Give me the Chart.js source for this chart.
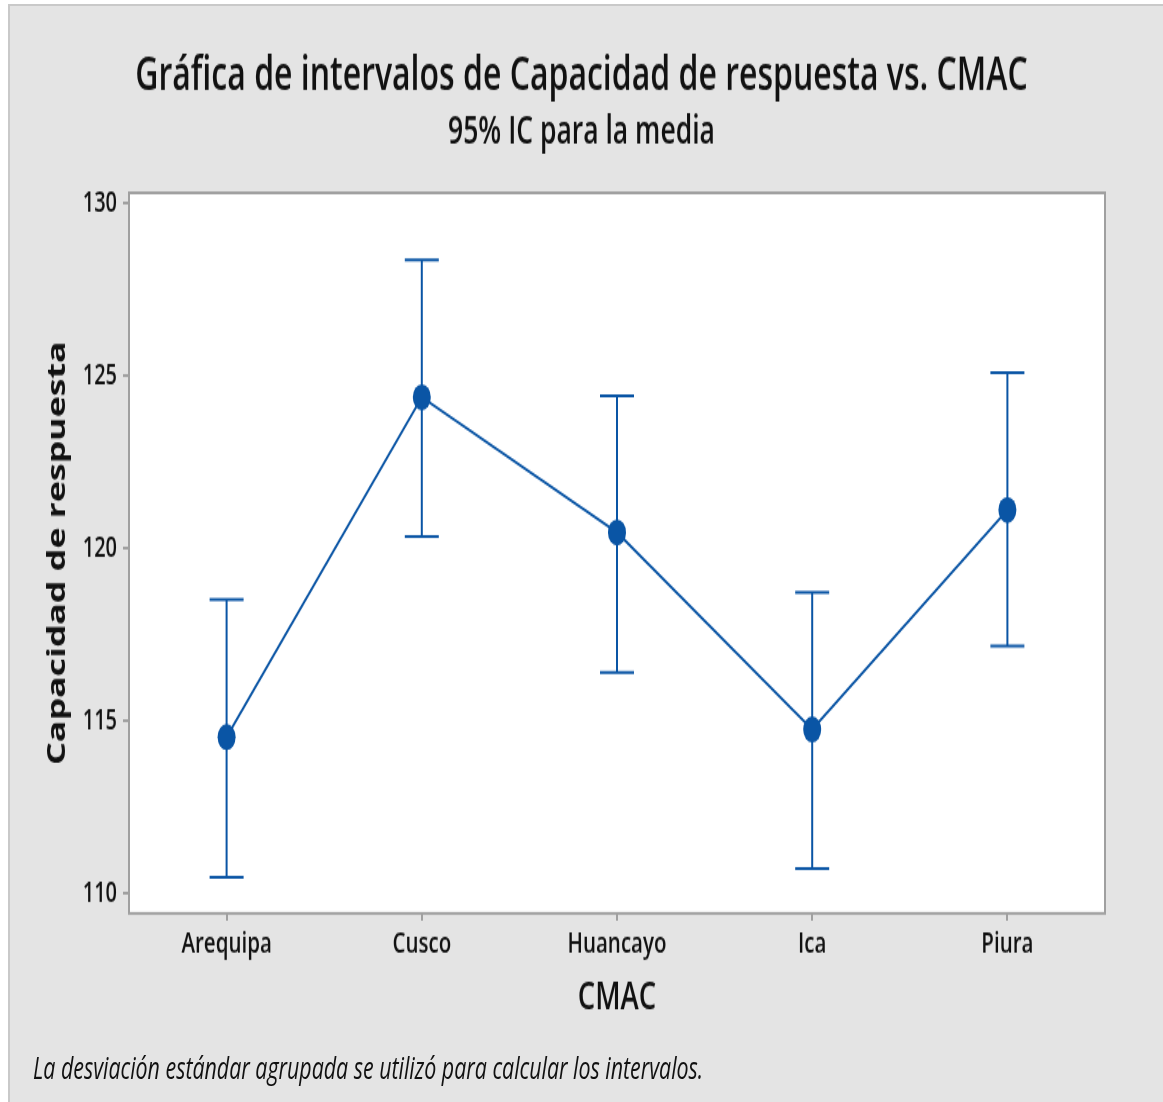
<!DOCTYPE html>
<html>
<head>
<meta charset="utf-8">
<script src="https://cdn.jsdelivr.net/npm/chart.js@4.4.1/dist/chart.umd.min.js"></script>
<style>
  html, body { margin: 0; padding: 0; background: #ffffff; width: 1163px; height: 1102px; overflow: hidden; }
  #bg { position: absolute; left: 8px; top: 4px; right: 0; bottom: 0; background: #e4e4e4; border-top: 2px solid #c9c9c9; border-left: 2px solid #c9c9c9; }
  #wrap { position: absolute; left: 0; top: 0; width: 1163px; height: 760px; transform: scaleY(1.45); transform-origin: 0 0; }
  #c { position: absolute; left: 0; top: 0; }
  #note { position: absolute; left: 33px; top: 725px; font-family: "Open Sans", sans-serif; font-style: italic; font-size: 21.4px; line-height: 22px; color: #111; white-space: nowrap; }
</style>
</head>
<body>
<div id="bg"></div>
<div id="wrap">
  <canvas id="c" width="1163" height="760"></canvas>
  <div id="note">La desviación estándar agrupada se utilizó para calcular los intervalos.</div>
</div>
<script>
const categories = ["Arequipa", "Cusco", "Huancayo", "Ica", "Piura"];
const means = [114.54, 124.39, 120.47, 114.76, 121.12];
const lowerCI = [110.48, 120.35, 116.41, 110.73, 117.18];
const upperCI = [118.52, 128.37, 124.43, 118.73, 125.10];
const yTicks = [110, 115, 120, 125, 130];

const BLUE = "#0a55a5";
const AXIS = "#a0a0a0";
const TXT = "#111111";
const FONT = "'Open Sans', sans-serif";

const errorBars = {
  id: "errorBars",
  beforeDatasetsDraw(chart) {
    const ctx = chart.ctx;
    const xs = chart.scales.x, ys = chart.scales.y;
    ctx.save();
    ctx.strokeStyle = BLUE;
    ctx.lineWidth = 2;
    const cap = 17;
    categories.forEach((c, i) => {
      const x = xs.getPixelForValue(i);
      const yl = ys.getPixelForValue(lowerCI[i]);
      const yu = ys.getPixelForValue(upperCI[i]);
      ctx.beginPath();
      ctx.moveTo(x, yu); ctx.lineTo(x, yl);
      ctx.moveTo(x - cap, yu); ctx.lineTo(x + cap, yu);
      ctx.moveTo(x - cap, yl); ctx.lineTo(x + cap, yl);
      ctx.stroke();
    });
    ctx.restore();
  }
};

const frame = {
  id: "frame",
  beforeDatasetsDraw(chart) {
    const {ctx, chartArea: a} = chart;
    ctx.save();
    ctx.fillStyle = "#ffffff";
    ctx.fillRect(a.left, a.top, a.right - a.left, a.bottom - a.top);
    ctx.strokeStyle = AXIS;
    ctx.lineWidth = 2;
    ctx.strokeRect(a.left, a.top, a.right - a.left, a.bottom - a.top);
    ctx.restore();
  }
};

new Chart(document.getElementById("c"), {
  type: "line",
  data: {
    labels: categories,
    datasets: [{
      data: means,
      borderColor: BLUE,
      backgroundColor: BLUE,
      borderWidth: 2,
      pointRadius: 9,
      pointHoverRadius: 9,
      pointBackgroundColor: BLUE,
      pointBorderWidth: 0,
      tension: 0,
      fill: false
    }]
  },
  options: {
    responsive: false,
    animation: false,
    devicePixelRatio: 1,
    layout: { padding: { left: 0, right: 0, top: 0, bottom: 55.8 } },
    plugins: {
      legend: { display: false },
      tooltip: { enabled: false },
      title: {
        display: true,
        text: "Gráfica de intervalos de Capacidad de respuesta vs. CMAC",
        color: TXT,
        font: { family: FONT, size: 32, weight: "600", lineHeight: 1 },
        padding: { top: 37, bottom: 9 }
      },
      subtitle: {
        display: true,
        text: "95% IC para la media",
        color: TXT,
        font: { family: FONT, size: 26.5, weight: "600", lineHeight: 1 },
        padding: { top: 0, bottom: 28.5 }
      }
    },
    scales: {
      x: {
        type: "category",
        offset: true,
        grid: { display: true, drawOnChartArea: false, drawTicks: true, tickLength: 5, color: AXIS, lineWidth: 2 },
        border: { display: false },
        ticks: { color: TXT, padding: 4, font: { family: FONT, size: 20.5, weight: "600" }, maxRotation: 0 },
        title: { display: true, text: "CMAC", color: TXT, padding: { top: 0, bottom: 0 }, font: { family: FONT, size: 27.5, weight: "600" } },
        afterFit(scale) { scale.height = 74.3; }
      },
      y: {
        type: "linear",
        min: 109.43,
        max: 130.31,
        grid: { display: true, drawOnChartArea: false, drawTicks: true, tickLength: 6, color: AXIS, lineWidth: 2 },
        border: { display: false },
        ticks: { color: TXT, padding: 6, font: { family: FONT, size: 20, weight: "600" } },
        afterBuildTicks(scale) { scale.ticks = yTicks.map(v => ({ value: v })); },
        title: { display: true, text: "Capacidad de respuesta", color: TXT, padding: { top: 43, bottom: 0 }, font: { family: FONT, size: 24.6, weight: "bold" } },
        afterFit(scale) { scale.width = 129; }
      },
      yRight: {
        type: "linear",
        position: "right",
        display: true,
        grid: { display: false, drawTicks: false },
        border: { display: false },
        ticks: { display: false },
        afterFit(scale) { scale.width = 58; }
      }
    }
  },
  plugins: [frame, errorBars]
});
</script>
</body>
</html>
